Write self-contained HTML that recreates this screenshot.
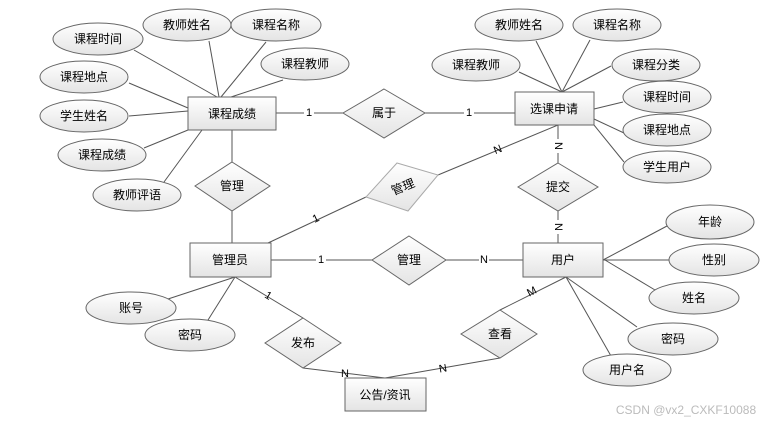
<!DOCTYPE html>
<html><head><meta charset="utf-8"><style>
html,body{margin:0;padding:0;background:#fff;width:771px;height:423px;overflow:hidden}
svg{display:block}
text{font-family:"Liberation Sans","Noto Sans CJK SC",sans-serif;font-size:12px;fill:#000;text-anchor:middle;dominant-baseline:central}
.l{stroke:#555;stroke-width:1;fill:none}
.s{fill:url(#g);stroke:#666;stroke-width:1}
.c{font-size:11px}
</style></head><body>
<svg width="771" height="423" viewBox="0 0 771 423">
<defs><linearGradient id="g" x1="0" y1="0" x2="0" y2="1"><stop offset="0" stop-color="#ffffff"/><stop offset="1" stop-color="#e4e4e4"/></linearGradient></defs>
<!-- lines -->
<g class="l">
<line x1="134" y1="50" x2="217" y2="97"/><line x1="209" y1="41" x2="219" y2="97"/>
<line x1="266" y1="42" x2="221" y2="97"/><line x1="283" y1="80" x2="231" y2="97"/>
<line x1="129" y1="83" x2="188" y2="108"/><line x1="129" y1="116" x2="188" y2="111"/>
<line x1="144" y1="148" x2="188" y2="130"/><line x1="164" y1="182" x2="202" y2="130"/>
<line x1="276" y1="113" x2="343" y2="113"/><line x1="425" y1="113" x2="515" y2="113"/>
<line x1="536" y1="41" x2="562" y2="92"/><line x1="590" y1="40" x2="562" y2="92"/>
<line x1="519" y1="72" x2="562" y2="92"/><line x1="611" y1="66" x2="562" y2="92"/>
<line x1="623" y1="102" x2="594" y2="109"/><line x1="624" y1="133" x2="594" y2="119"/>
<line x1="624" y1="162" x2="594" y2="125"/>
<line x1="558" y1="125" x2="558" y2="163"/><line x1="558" y1="211" x2="558" y2="243"/>
<line x1="558" y1="125" x2="438" y2="175"/><line x1="366" y1="197" x2="268" y2="243"/>
<line x1="232" y1="130" x2="232" y2="162"/><line x1="232" y1="211" x2="232" y2="243"/>
<line x1="271" y1="260" x2="372" y2="260"/><line x1="446" y1="260" x2="523" y2="260"/>
<line x1="603" y1="260" x2="667" y2="226"/><line x1="603" y1="260" x2="669" y2="260"/>
<line x1="605" y1="260" x2="655" y2="290"/><line x1="566" y1="277" x2="637" y2="327"/>
<line x1="566" y1="277" x2="611" y2="356"/>
<line x1="566" y1="277" x2="500" y2="310"/><line x1="500" y1="358" x2="385" y2="378"/>
<line x1="235" y1="277" x2="303" y2="318"/><line x1="303" y1="368" x2="385" y2="378"/>
<line x1="168" y1="299" x2="235" y2="277"/><line x1="208" y1="320" x2="235" y2="277"/>
</g>
<!-- ellipses -->
<g class="s">
<ellipse cx="98" cy="39" rx="45" ry="16"/><ellipse cx="187" cy="25" rx="44" ry="16"/>
<ellipse cx="276" cy="25" rx="45" ry="16"/><ellipse cx="305" cy="64" rx="44" ry="16"/>
<ellipse cx="84" cy="77" rx="44" ry="16"/><ellipse cx="84" cy="116" rx="44" ry="16"/>
<ellipse cx="102" cy="155" rx="44" ry="16"/><ellipse cx="137" cy="195" rx="44" ry="16"/>
<ellipse cx="519" cy="25" rx="44" ry="16"/><ellipse cx="617" cy="25" rx="44" ry="16"/>
<ellipse cx="476" cy="65" rx="44" ry="16"/><ellipse cx="656" cy="65" rx="44" ry="16"/>
<ellipse cx="667" cy="97" rx="44" ry="16"/><ellipse cx="667" cy="130" rx="44" ry="16"/>
<ellipse cx="667" cy="167" rx="44" ry="16"/>
<ellipse cx="710" cy="222" rx="44" ry="17"/><ellipse cx="714" cy="260" rx="45" ry="16"/>
<ellipse cx="694" cy="298" rx="45" ry="16"/><ellipse cx="673" cy="339" rx="45" ry="16"/>
<ellipse cx="627" cy="370" rx="44" ry="16"/>
<ellipse cx="131" cy="308" rx="45" ry="16"/><ellipse cx="190" cy="335" rx="45" ry="16"/>
<!-- rects -->
<rect x="188" y="97" width="88" height="33"/><rect x="515" y="92" width="79" height="33"/>
<rect x="190" y="243" width="81" height="34"/><rect x="523" y="243" width="80" height="34"/>
<rect x="345" y="378" width="81" height="33"/>
<!-- diamonds -->
<polygon points="384,89 425,113 384,138 343,113"/>
<polygon points="558,163 598,187 558,211 518,187"/>
<polygon points="232,162 270,186 232,211 195,186"/>
<polygon points="409,236 446,260 409,285 372,260"/>
<polygon points="500,310 537,334 500,358 461,334"/>
<polygon points="303,318 341,343 303,368 265,343"/>
<polygon points="397,163 438,175 408,211 366,197" style="stroke:#aaa"/>
</g>
<text x="98" y="39">课程时间</text><text x="187" y="25">教师姓名</text><text x="276" y="25">课程名称</text>
<text x="305" y="64">课程教师</text><text x="84" y="77">课程地点</text><text x="84" y="116">学生姓名</text>
<text x="102" y="155">课程成绩</text><text x="137" y="195">教师评语</text>
<text x="519" y="25">教师姓名</text><text x="617" y="25">课程名称</text><text x="476" y="65">课程教师</text>
<text x="656" y="65">课程分类</text><text x="667" y="97">课程时间</text><text x="667" y="130">课程地点</text>
<text x="667" y="167">学生用户</text>
<text x="710" y="222">年龄</text><text x="714" y="260">性别</text><text x="694" y="298">姓名</text>
<text x="673" y="339">密码</text><text x="627" y="370">用户名</text>
<text x="131" y="308">账号</text><text x="190" y="335">密码</text>
<text x="232" y="114">课程成绩</text><text x="554" y="109">选课申请</text>
<text x="230" y="260">管理员</text><text x="563" y="260">用户</text><text x="385" y="395">公告/资讯</text>
<text x="384" y="113">属于</text><text x="558" y="187">提交</text><text x="232" y="186">管理</text>
<text x="409" y="260">管理</text><text x="500" y="334">查看</text><text x="303" y="343">发布</text>
<text x="403" y="187" transform="rotate(-22 403 187)">管理</text>
<g class="c">
<rect x="304" y="106" width="10" height="14" fill="#fff"/><text class="c" x="309" y="113">1</text>
<rect x="464" y="106" width="10" height="14" fill="#fff"/><text class="c" x="469" y="113">1</text>
<rect x="316" y="253" width="10" height="14" fill="#fff"/><text class="c" x="321" y="260">1</text>
<rect x="479" y="253" width="10" height="14" fill="#fff"/><text class="c" x="484" y="260">N</text>
<rect x="553" y="139" width="10" height="14" fill="#fff"/><text class="c" x="558" y="146" transform="rotate(90 558 146)">N</text>
<rect x="553" y="220" width="10" height="14" fill="#fff"/><text class="c" x="558" y="227" transform="rotate(90 558 227)">N</text>
<text class="c" x="498" y="150" transform="rotate(-22 498 150)">N</text>
<text class="c" x="316" y="219" transform="rotate(-25 316 219)">1</text>
<text class="c" x="268" y="296" transform="rotate(31 268 296)">1</text>
<text class="c" x="532" y="292" transform="rotate(-27 532 292)">M</text>
<text class="c" x="443" y="369" transform="rotate(-10 443 369)">N</text>
<text class="c" x="345" y="374">N</text>
</g>
<text x="686" y="410" style="fill:#bbb;font-size:12px">CSDN @vx2_CXKF10088</text>
</svg>
</body></html>
